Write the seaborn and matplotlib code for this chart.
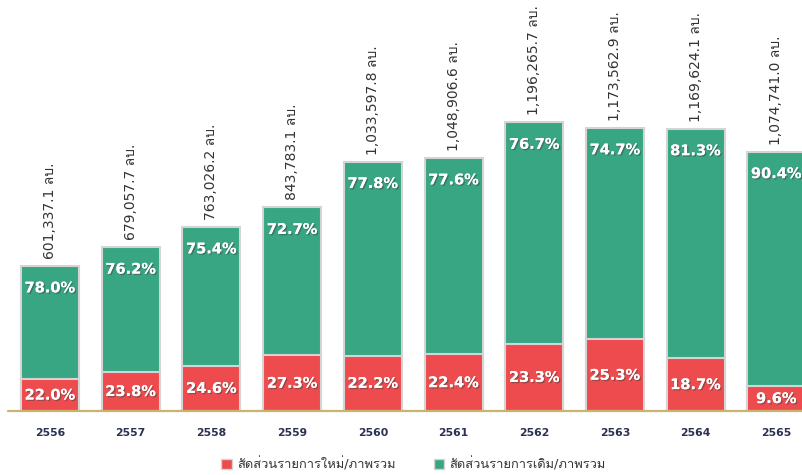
import matplotlib
matplotlib.use("Agg")
import matplotlib.pyplot as plt
import matplotlib.patheffects as pe
from matplotlib.patches import Patch
from matplotlib import font_manager
from matplotlib.ft2font import FT2Font
import seaborn as sns
import pandas as pd

# ---- data ----
years = ["2556", "2557", "2558", "2559", "2560", "2561", "2562", "2563", "2564", "2565"]
totals = [601337.1, 679057.7, 763026.2, 843783.1, 1033597.8, 1048906.6, 1196265.7, 1173562.9, 1169624.1, 1074741.0]
new_pct = [22.0, 23.8, 24.6, 27.3, 22.2, 22.4, 23.3, 25.3, 18.7, 9.6]
old_pct = [78.0, 76.2, 75.4, 72.7, 77.8, 77.6, 76.7, 74.7, 81.3, 90.4]
legend_labels = ["สัดส่วนรายการใหม่/ภาพรวม", "สัดส่วนรายการเดิม/ภาพรวม"]
unit = "ลบ."

# ---- find a font with Thai glyphs ----
thai_font = None
for f in font_manager.fontManager.ttflist:
    try:
        ft = FT2Font(f.fname)
        if ft.get_char_index(ord("ส")) and ft.get_char_index(ord("บ")):
            thai_font = f.name
            break
    except Exception:
        pass

sns.set_theme(style="white")
fams = ["DejaVu Sans"] + ([thai_font] if thai_font else [])
plt.rcParams["font.family"] = fams

GREEN = "#38a583"
RED = "#ee4b4e"
EDGE = "#d4d4d4"

df = pd.DataFrame({"year": years, "total": totals,
                   "new": [t * p / 100 for t, p in zip(totals, new_pct)]})

fig = plt.figure(figsize=(8.03, 4.75), dpi=100)
ax = fig.add_axes([0, 64 / 475, 1, 411 / 475])

sns.barplot(data=df, x="year", y="total", color=GREEN, saturation=1,
            width=0.72, edgecolor=EDGE, linewidth=1.5, ax=ax)
sns.barplot(data=df, x="year", y="new", color=RED, saturation=1,
            width=0.72, edgecolor=EDGE, linewidth=1.5, ax=ax)

ax.set_ylim(0, 1.7028e6)
ax.set_xlim(-0.62, 9.33)
px = 1.7028e6 / 411  # data units per pixel

shadow = [pe.withSimplePatchShadow(offset=(1, -1), shadow_rgbFace="#444444", alpha=0.5), pe.Normal()]
for i, (t, n, o) in enumerate(zip(totals, new_pct, old_pct)):
    red_h = t * n / 100
    ax.text(i, red_h / 2, f"{n:.1f}%", ha="center", va="center", color="white",
            fontsize=10.5, fontweight="bold", path_effects=shadow)
    ax.text(i, t - 22 * px, f"{o:.1f}%", ha="center", va="center", color="white",
            fontsize=10.5, fontweight="bold", path_effects=shadow)
    ax.text(i, t + 7 * px, f"{t:,.1f} {unit}", ha="center", va="bottom",
            rotation=90, color="#333333", fontsize=10, family=fams)

ax.plot([-0.52, 9.4], [0, 0], color="#c8b46a", lw=1.6, zorder=5, clip_on=False)

for s in ax.spines.values():
    s.set_visible(False)
ax.set_yticks([])
ax.set_xlabel("")
ax.set_ylabel("")
ax.tick_params(axis="x", length=0, pad=12)
for lbl in ax.get_xticklabels():
    lbl.set_fontweight("bold")
    lbl.set_fontsize(7.8)
    lbl.set_color("#2b3150")

handles = [Patch(facecolor=RED, edgecolor=EDGE, label=legend_labels[0]),
           Patch(facecolor=GREEN, edgecolor=EDGE, label=legend_labels[1])]
fig.legend(handles=handles, loc="center", bbox_to_anchor=(0.515, 0.023), ncol=2,
           frameon=False, handlelength=0.8, handleheight=0.8,
           handletextpad=0.4, columnspacing=3.0, labelcolor="#333333",
           prop={"family": fams, "size": 9.3})

fig.savefig("out.png", dpi=100)
